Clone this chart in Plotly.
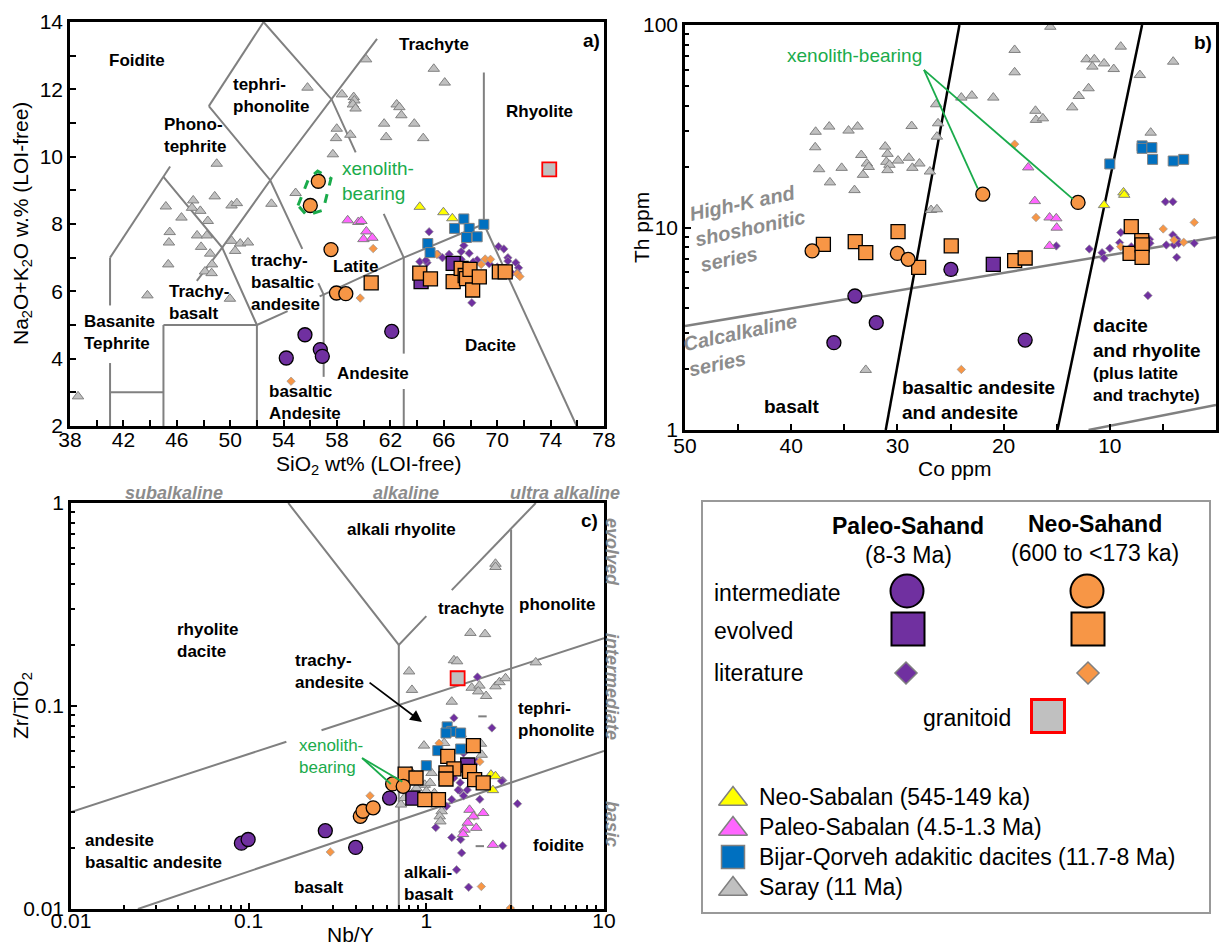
import math
import plotly.graph_objects as go

W, H = 1220, 947
FONT = "Liberation Sans, Arial, sans-serif"
PURPLE = "#7030a0"; ORANGE = "#f79646"; BLUE = "#0070c0"; YELLOW = "#ffff00"
PINK = "#ff66ff"; GRAY = "#c0c0c0"; GREEN = "#1aab4b"; LGRAY = "#8c8c8c"; LINEG = "#808080"

# ---------------- Panel a: TAS (SiO2 vs Na2O+K2O) ----------------
A_PS_INT_X = [54.2, 55.6, 56.75, 56.9, 62.1]
A_PS_INT_Y = [4.02, 4.71, 4.27, 4.07, 4.81]
A_PS_EVO_X = [66.7, 64.3]
A_PS_EVO_Y = [6.83, 6.29]
A_NS_INT_X = [56.6, 56.0, 57.55, 57.96, 58.66]
A_NS_INT_Y = [9.27, 8.55, 7.24, 5.95, 5.93]
A_NS_EVO_X = [60.56, 64.2, 65.0, 66.7, 67.3, 67.6, 67.7, 67.96, 68.16, 68.66, 70.16, 70.6]
A_NS_EVO_Y = [6.25, 6.54, 6.37, 6.29, 6.68, 6.47, 6.38, 6.65, 6.04, 6.43, 6.58, 6.58]
A_BQ_X = [67.5, 69.0, 66.8, 67.9, 67.7, 68.5, 64.8, 64.97]
A_BQ_Y = [8.15, 7.99, 7.87, 7.87, 7.6, 7.62, 7.42, 7.15]
A_NSAB_X = [64.2, 65.97, 66.64]
A_NSAB_Y = [8.51, 8.35, 8.17]
A_PSAB_X = [58.8, 59.6, 59.83, 60.2, 59.98, 60.65]
A_PSAB_Y = [8.11, 8.06, 8.09, 7.78, 7.55, 7.59]
A_GRAN_X = [73.9]
A_GRAN_Y = [9.62]
A_SARAY_X = [38.6, 43.8, 45.18, 45.47, 45.41, 45.36, 46.35, 47.23, 47.14, 47.76, 47.52, 48.25, 47.82,
             48.32, 48.5, 48.64, 48.11, 48.61, 48.99, 48.84, 50.1, 50.5, 50.1, 50.37, 50.75, 51.33,
             49.98, 53.09, 54.9, 55.79, 58.37, 57.98, 57.93, 57.69, 59.0, 59.25, 59.3, 59.19, 59.39,
             60.18, 61.53, 61.68, 62.47, 62.67, 62.82, 63.79, 64.46, 65.25, 66.07]
A_SARAY_Y = [2.88, 5.88, 8.52, 7.76, 7.45, 6.80, 8.19, 8.70, 8.48, 8.39, 7.66, 7.66, 7.32,
             8.09, 7.12, 6.80, 6.59, 6.54, 9.79, 8.82, 8.55, 8.62, 7.5, 7.2, 7.42, 7.45,
             5.78, 8.6, 8.92, 12.05, 11.85, 10.83, 10.55, 10.07, 10.65, 11.77, 11.67, 11.55, 11.43,
             12.89, 10.98, 10.58, 11.55, 11.47, 11.23, 10.98, 10.55, 12.61, 12.2]
A_PS_LIT_X = [64.9, 64.2, 64.75, 65.55, 65.9, 66.4, 67.3, 67.5, 67.9, 67.3, 68.5, 68.1, 70.1, 70.5,
              70.8, 70.8, 71.4, 71.6, 71.5, 71.1, 69.4, 70.0, 64.66, 68.2]
A_PS_LIT_Y = [7.77, 6.88, 6.85, 7.1, 7.0, 7.1, 7.18, 7.36, 7.13, 6.95, 6.93, 5.66, 7.33, 7.26,
              7.0, 6.9, 6.85, 6.7, 6.55, 6.54, 6.82, 6.72, 6.92, 6.87]
A_NS_LIT_X = [54.56, 59.74, 60.71, 65.47, 69.1, 69.5, 68.8, 71.5, 71.7]
A_NS_LIT_Y = [3.33, 5.8, 7.27, 7.1, 6.96, 6.95, 6.8, 6.52, 6.44]
A_XENO_X = [55.08, 55.88, 56.55, 57.55, 56.96, 55.73, 55.08]
A_XENO_Y = [8.55, 9.35, 9.57, 9.35, 8.41, 8.26, 8.55]
TAS_X = [41, 41, None, 41, 41, None, 41, 45, None, 45, 45, None, 45, 52, None, 52, 52, None,
         41, 45, 45.5, None, 48.4, 52.5, None, 45, 49.4, 52, None, 48.4, 53, 55.4, None, 56.6, 57, None,
         52.5, 57.6, 59.4, None, 61.5, 63, None, 47.5, 49.4, 53, 57.6, 61, None,
         57, 57, None, 63, 63, None, 63, 63, None, 52, 54.3, None, 56.7, 57, 63, 69, None,
         69, 69, None, 69, 75.95]
TAS_Y = [2, 3.87, None, 5.58, 7, None, 3, 3, None, 2, 5, None, 5, 5, None, 2, 5, None,
         7, 9.4, 9.71, None, 11.5, 14, None, 9.4, 7.3, 5, None, 11.5, 9.3, 7.26, None, 6.24, 5.9, None,
         14, 11.7, 10.13, None, 8.3, 7, None, 6.31, 7.3, 9.3, 11.7, 13.5, None,
         3.46, 5.9, None, 2, 3.1, None, 4.15, 7, None, 5, 5.41, None, 5.85, 5.9, 7, 8, None,
         8, 12.5, None, 8, 2]

# ---------------- Panel b: Th vs Co ----------------
B_PS_INT_X = [34.0, 31.99, 35.98, 17.97, 24.96]
B_PS_INT_Y = [4.59, 3.39, 2.70, 2.78, 6.21]
B_PS_EVO_X = [20.97]
B_PS_EVO_Y = [6.58]
B_NS_INT_X = [38.03, 30.0, 28.99, 21.96, 12.99]
B_NS_INT_Y = [7.66, 7.45, 6.96, 14.6, 13.3]
B_NS_EVO_X = [36.97, 33.97, 32.98, 29.94, 28.0, 24.93, 18.96, 17.97, 7.98, 8.09, 6.99, 6.96, 6.96]
B_NS_EVO_Y = [8.26, 8.51, 7.51, 9.54, 6.36, 8.11, 6.86, 7.07, 10.1, 7.45, 8.61, 8.2, 7.12]
B_BQ_X = [10.0, 6.96, 6.96, 6.04, 5.97, 4.03, 3.04]
B_BQ_Y = [20.6, 25.3, 24.6, 24.8, 21.7, 21.3, 21.7]
B_NSAB_X = [8.71, 8.64, 10.54]
B_NSAB_Y = [14.9, 14.5, 12.9]
B_PSAB_X = [17.68, 17.06, 15.67, 15.04, 15.0, 15.67]
B_PSAB_Y = [19.8, 13.5, 11.2, 11.1, 9.98, 8.11]
B_SARAY_X = [15.6, 18.96, 18.96, 8.97, 12.19, 11.46, 11.64, 10.54, 9.63, 7.17, 4.03, 12.0, 12.92,
             13.54, 17.0, 16.95, 16.3, 20.97, 22.99, 23.98, 26.35, 26.17, 26.28, 28.66, 36.42, 33.75,
             34.6, 37.7, 37.74, 37.37, 36.35, 35.25, 34.04, 33.4, 33.24, 32.87, 32.7, 31.15, 30.93,
             31.04, 30.75, 30.93, 29.94, 28.92, 28.59, 27.93, 26.94, 26.83, 26.28, 24.93, 32.98, 6.15]
B_SARAY_Y = [98, 75.3, 58.4, 78.2, 67.7, 67.7, 62.3, 64.6, 60.6, 56.6, 65.9, 48.7, 44.6,
             39.2, 37.7, 34.0, 34.6, 43.8, 44.8, 43.8, 40.6, 32.7, 28.1, 31.7, 31.5, 31.5,
             30.1, 29.7, 24.9, 19.4, 16.7, 19.7, 15.3, 22.8, 18.2, 20.7, 19.9, 25.1, 23.1,
             21.1, 20.4, 19.2, 21.4, 22.1, 19.7, 20.7, 18.9, 12.2, 12.3, 5.98, 1.98, 29.4]
B_PS_LIT_X = [4.76, 4.06, 15.04, 11.93, 10.73, 10.54, 10.0, 8.97, 9.08, 7.98, 6.26, 6.22, 6.41, 4.06,
              4.68, 3.96, 3.7, 3.7, 3.51, 2.05, 7.06]
B_PS_LIT_Y = [13.4, 13.4, 8.11, 7.83, 7.51, 7.05, 7.89, 9.44, 8.42, 8.04, 8.74, 8.36, 4.61, 9.19,
              8.2, 8.2, 7.12, 8.74, 8.36, 8.36, 8.36]
B_NS_LIT_X = [18.96, 16.95, 23.98, 4.97, 3.96, 3.04, 2.05, 8.97]
B_NS_LIT_Y = [25.8, 11.2, 1.99, 9.84, 8.67, 8.45, 10.6, 8.04]
B_BLACK_X = [24.16, 31.1, None, 6.96, 14.93]
B_BLACK_Y = [100, 1, None, 100, 1]
B_GRAY_X = [50, 0, None, 12.0, 0]
B_GRAY_Y = [3.26, 8.94, None, 1, 1.33]
B_XENO_X = [27.5, 22.44, None, 27.5, 13.47]
B_XENO_Y = [60, 15.6, None, 60, 13.8]

# ---------------- Panel c: Zr/TiO2 vs Nb/Y ----------------
C_PS_INT_X = [0.091, 0.0993, 0.270, 0.40, 0.621]
C_PS_INT_Y = [0.0211, 0.022, 0.0243, 0.0201, 0.0352]
C_PS_EVO_X = [1.71, 0.84]
C_PS_EVO_Y = [0.0512, 0.0352]
C_NS_INT_X = [0.425, 0.44, 0.502, 0.646, 0.741]
C_NS_INT_Y = [0.0286, 0.0303, 0.0315, 0.0413, 0.0402]
C_NS_EVO_X = [0.76, 0.875, 1.17, 1.32, 1.43, 1.29, 1.29, 1.75, 1.84, 1.87, 2.09, 0.98]
C_NS_EVO_Y = [0.0462, 0.0442, 0.0346, 0.0565, 0.049, 0.0468, 0.0437, 0.0476, 0.0638, 0.0434, 0.0418, 0.0346]
C_BQ_X = [1.31, 1.39, 1.29, 1.56, 1.16, 1.56, 1.0]
C_BQ_Y = [0.0789, 0.075, 0.0736, 0.0736, 0.0603, 0.0614, 0.0508]
C_NSAB_X = [2.31, 2.45, 2.37]
C_NSAB_Y = [0.0459, 0.0451, 0.0385]
C_PSAB_X = [1.75, 1.84, 2.09, 1.71, 1.64, 1.91, 2.37, 1.61]
C_PSAB_Y = [0.0308, 0.0286, 0.0297, 0.0266, 0.0246, 0.0251, 0.0207, 0.0234]
C_GRAN_X = [1.50]
C_GRAN_Y = [0.137]
C_SARAY_X = [2.45, 2.45, 1.77, 2.14, 1.43, 1.49, 0.80, 0.83, 1.39, 1.80, 1.99, 1.96, 2.17, 2.45, 2.58,
             2.79, 4.13, 1.56, 0.97, 1.26, 2.03, 2.05, 0.76, 0.82, 1.07, 1.30, 0.98, 0.88, 0.78, 0.72,
             0.75, 0.84, 1.0, 1.05, 1.11, 1.08, 0.93, 1.22, 1.19, 1.20]
C_SARAY_Y = [0.502, 0.484, 0.229, 0.226, 0.168, 0.166, 0.148, 0.120, 0.105, 0.123, 0.126, 0.118, 0.112,
             0.125, 0.131, 0.137, 0.164, 0.0728, 0.0638, 0.0657, 0.0652, 0.0575, 0.0442, 0.0476, 0.0468,
             0.0471, 0.0409, 0.0394, 0.0366, 0.0327, 0.0352, 0.0366, 0.038, 0.0418, 0.0372, 0.0339,
             0.0346, 0.0303, 0.0286, 0.027]
C_DASH_X = [2.07, 2.0]
C_DASH_Y = [0.0889, 0.0204]
C_PS_LIT_X = [1.94, 1.43, 2.34, 1.62, 1.92, 2.69, 1.54, 1.70, 1.51, 1.39, 1.30, 2.0, 1.62, 3.26, 1.13,
              1.39, 1.56, 1.58, 1.48, 1.73, 2.69, 1.43, 2.65, 1.55]
C_PS_LIT_Y = [0.139, 0.0873, 0.078, 0.0586, 0.0532, 0.043, 0.0383, 0.0386, 0.0386, 0.0346, 0.0321,
              0.0347, 0.0361, 0.033, 0.0252, 0.0225, 0.022, 0.0189, 0.0156, 0.0128, 0.0205, 0.0442,
              0.0427, 0.0419]
C_NS_LIT_X = [0.482, 0.288, 2.04, 2.97, 2.0, 1.18, 1.86]
C_NS_LIT_Y = [0.0361, 0.0191, 0.0129, 0.0101, 0.0532, 0.0655, 0.0287]
C_LINES_X = [0.167, 0.7, 1.0, None, 1.39, 4.13, None, 0.7, 0.7, None, 3.0, 3.0, None,
             0.01, 0.163, None, 0.257, 10, None, 0.0238, 10]
C_LINES_Y = [1, 0.2, 0.277, None, 0.372, 1, None, 0.01, 0.2, None, 0.01, 0.74, None,
             0.030, 0.0667, None, 0.0759, 0.216, None, 0.01, 0.06]
C_XENO_X = [0.435, 0.631, None, 0.435, 0.733]
C_XENO_Y = [0.0554, 0.0413, None, 0.0554, 0.0423]

fig = go.Figure()


def pts(xa, ya, x, y, symbol, color, size, lcolor, lwidth):
    fig.add_trace(go.Scatter(x=x, y=y, mode="markers", xaxis=xa, yaxis=ya, hoverinfo="skip",
                             marker=dict(symbol=symbol, color=color, size=size,
                                         line=dict(color=lcolor, width=lwidth))))


def lines(xa, ya, x, y, color, width, dash="solid"):
    fig.add_trace(go.Scatter(x=x, y=y, mode="lines", xaxis=xa, yaxis=ya, hoverinfo="skip",
                             line=dict(color=color, width=width, dash=dash)))


def panel(xa, ya, d, big):
    (ps_ix, ps_iy, ps_ex, ps_ey, ns_ix, ns_iy, ns_ex, ns_ey, bq_x, bq_y, nsab_x, nsab_y,
     psab_x, psab_y, sar_x, sar_y, psl_x, psl_y, nsl_x, nsl_y) = d
    pts(xa, ya, sar_x, sar_y, "triangle-up", GRAY, 10, LINEG, 1)
    pts(xa, ya, psl_x, psl_y, "diamond", PURPLE, 6.5, "#9a9a9a", 0.7)
    pts(xa, ya, nsl_x, nsl_y, "diamond", ORANGE, 6.5, "#9a9a9a", 0.7)
    pts(xa, ya, psab_x, psab_y, "triangle-up", PINK, 10, LINEG, 1)
    pts(xa, ya, nsab_x, nsab_y, "triangle-up", YELLOW, 10, LINEG, 1)
    pts(xa, ya, bq_x, bq_y, "square", BLUE, 10, LINEG, 1)
    pts(xa, ya, ps_ix, ps_iy, "circle", PURPLE, big, "black", 1.3)
    pts(xa, ya, ps_ex, ps_ey, "square", PURPLE, big, "black", 1.3)
    pts(xa, ya, ns_ex, ns_ey, "square", ORANGE, big, "black", 1.3)
    pts(xa, ya, ns_ix, ns_iy, "circle", ORANGE, big, "black", 1.3)


# Panel a
lines("x", "y", TAS_X, TAS_Y, LINEG, 2)
panel("x", "y", (A_PS_INT_X, A_PS_INT_Y, A_PS_EVO_X, A_PS_EVO_Y, A_NS_INT_X, A_NS_INT_Y, A_NS_EVO_X,
                 A_NS_EVO_Y, A_BQ_X, A_BQ_Y, A_NSAB_X, A_NSAB_Y, A_PSAB_X, A_PSAB_Y, A_SARAY_X,
                 A_SARAY_Y, A_PS_LIT_X, A_PS_LIT_Y, A_NS_LIT_X, A_NS_LIT_Y), 14)
pts("x", "y", A_GRAN_X, A_GRAN_Y, "square", GRAY, 14, "red", 1.8)
lines("x", "y", A_XENO_X, A_XENO_Y, GREEN, 3, "dash")

# Panel b
lines("x2", "y2", B_GRAY_X, B_GRAY_Y, LINEG, 2.5)
lines("x2", "y2", B_BLACK_X, B_BLACK_Y, "black", 2.5)
panel("x2", "y2", (B_PS_INT_X, B_PS_INT_Y, B_PS_EVO_X, B_PS_EVO_Y, B_NS_INT_X, B_NS_INT_Y, B_NS_EVO_X,
                   B_NS_EVO_Y, B_BQ_X, B_BQ_Y, B_NSAB_X, B_NSAB_Y, B_PSAB_X, B_PSAB_Y, B_SARAY_X,
                   B_SARAY_Y, B_PS_LIT_X, B_PS_LIT_Y, B_NS_LIT_X, B_NS_LIT_Y), 14)
lines("x2", "y2", B_XENO_X, B_XENO_Y, GREEN, 1.8)

# Panel c
lines("x3", "y3", C_LINES_X, C_LINES_Y, LINEG, 2)
pts("x3", "y3", C_DASH_X, C_DASH_Y, "line-ew", GRAY, 6, LINEG, 2)
panel("x3", "y3", (C_PS_INT_X, C_PS_INT_Y, C_PS_EVO_X, C_PS_EVO_Y, C_NS_INT_X, C_NS_INT_Y, C_NS_EVO_X,
                   C_NS_EVO_Y, C_BQ_X, C_BQ_Y, C_NSAB_X, C_NSAB_Y, C_PSAB_X, C_PSAB_Y, C_SARAY_X,
                   C_SARAY_Y, C_PS_LIT_X, C_PS_LIT_Y, C_NS_LIT_X, C_NS_LIT_Y), 14)
pts("x3", "y3", C_GRAN_X, C_GRAN_Y, "square", GRAY, 14, "red", 1.8)
lines("x3", "y3", C_XENO_X, C_XENO_Y, GREEN, 1.8)

# Legend symbols (overlay axis in page pixels)
LEG_SYM = [
    (907, 591, "circle", PURPLE, 33, "black", 2),
    (1087, 591, "circle", ORANGE, 33, "black", 2),
    (908, 629, "square", PURPLE, 33, "black", 2),
    (1088, 629, "square", ORANGE, 33, "black", 2),
    (906, 673, "diamond", PURPLE, 17, "#808080", 1.5),
    (1088, 673, "diamond", ORANGE, 17, "#808080", 1.5),
    (1048, 716, "square", GRAY, 33, "red", 3),
    (733, 799, "triangle-up", YELLOW, 25, "#808080", 1.5),
    (733, 829, "triangle-up", PINK, 25, "#808080", 1.5),
    (733, 857, "square", BLUE, 23, "#808080", 1.5),
    (733, 889, "triangle-up", GRAY, 25, "#808080", 1.5),
]
for (lx, ly, s, c, sz, lc, lw) in LEG_SYM:
    pts("x4", "y4", [lx], [ly], s, c, sz, lc, lw)


def P(x, y):
    return x / W, 1 - y / H


def txt(x, y, s, size=17, color="black", weight="bold", style="normal", xanchor="center",
        align="center", angle=0, yanchor="middle"):
    px_, py_ = P(x, y)
    fig.add_annotation(x=px_, y=py_, xref="paper", yref="paper", text=s, showarrow=False,
                       font=dict(family=FONT, size=size, color=color, weight=weight, style=style),
                       xanchor=xanchor, yanchor=yanchor, align=align, textangle=angle, borderpad=0)


# Panel a labels
txt(137, 61, "Foidite")
txt(232, 95, "tephri-<br>phonolite", xanchor="left", align="left")
txt(434, 44, "Trachyte")
txt(539, 112, "Rhyolite")
txt(163, 136, "Phono-<br>tephrite", xanchor="left", align="left")
txt(250, 282, "trachy-<br>basaltic<br>andesite", xanchor="left", align="left")
txt(355, 266, "Latite")
txt(168, 302, "Trachy-<br>basalt", xanchor="left", align="left")
txt(83, 332, "Basanite<br>Tephrite", xanchor="left", align="left")
txt(373, 373, "Andesite")
txt(268, 403, "basaltic<br>Andesite", xanchor="left", align="left")
txt(490, 345, "Dacite")
txt(601, 41, "a)", size=19, xanchor="right")
txt(341, 181, "xenolith-<br>bearing", size=19, color=GREEN, weight="normal", xanchor="left", align="left")
txt(369, 465, "SiO<sub>2</sub> wt% (LOI-free)", size=21, weight="normal")
txt(22, 224, "Na<sub>2</sub>O+K<sub>2</sub>O w.% (LOI-free)", size=21, weight="normal", angle=-90)

# Panel b labels
txt(1213, 43, "b)", size=19, xanchor="right")
txt(855, 56, "xenolith-bearing", size=19, color=GREEN, weight="normal")
txt(792, 406, "basalt", size=19)
txt(901, 400, "basaltic andesite<br>and andesite", size=19, xanchor="left", align="left")
txt(1092, 338, "dacite<br>and rhyolite", size=19, xanchor="left", align="left")
txt(1092, 384, "(plus latite<br>and trachyte)", size=17, xanchor="left", align="left")
txt(750, 228, "High-K and<br>shoshonitic<br>series", size=20, color=LGRAY, style="italic",
    align="left", angle=-12)
txt(743, 345, "Calcalkaline<br>series", size=20, color=LGRAY, style="italic", align="left", angle=-12)
txt(641, 228, "Th ppm", size=21, weight="normal", angle=-90)
txt(955, 468, "Co ppm", size=21, weight="normal")

# Panel c labels
txt(174, 493, "subalkaline", size=18, color=LGRAY, style="italic")
txt(406, 493, "alkaline", size=18, color=LGRAY, style="italic")
txt(565, 493, "ultra alkaline", size=18, color=LGRAY, style="italic")
txt(612, 552, "evolved", size=18, color=LGRAY, style="italic", angle=90)
txt(612, 686, "intermediate", size=18, color=LGRAY, style="italic", angle=90)
txt(612, 824, "basic", size=18, color=LGRAY, style="italic", angle=90)
txt(599, 520, "c)", size=19, xanchor="right")
txt(401, 529, "alkali rhyolite")
txt(471, 608, "trachyte")
txt(557, 604, "phonolite")
txt(176, 640, "rhyolite<br>dacite", xanchor="left", align="left")
txt(294, 671, "trachy-<br>andesite", xanchor="left", align="left")
txt(517, 719, "tephri-<br>phonolite", xanchor="left", align="left")
txt(84, 851, "andesite<br>basaltic andesite", xanchor="left", align="left")
txt(318, 887, "basalt")
txt(403, 883, "alkali-<br>basalt", xanchor="left", align="left")
txt(558, 845, "foidite")
txt(298, 756, "xenolith-<br>bearing", size=17, color=GREEN, weight="normal", xanchor="left", align="left")
txt(22, 706, "Zr/TiO<sub>2</sub>", size=21, weight="normal", angle=-90)
txt(350, 934, "Nb/Y", size=21, weight="normal")

fig.add_annotation(x=math.log10(0.944), y=math.log10(0.0834), ax=math.log10(0.47), ay=math.log10(0.132),
                   xref="x3", yref="y3", axref="x3", ayref="y3", text="", showarrow=True,
                   arrowhead=2, arrowsize=1.3, arrowwidth=1.8, arrowcolor="black")

# Legend texts
txt(908, 526, "Paleo-Sahand", size=23)
txt(908, 555, "(8-3 Ma)", size=23, weight="normal")
txt(1095, 524, "Neo-Sahand", size=23)
txt(1095, 553, "(600 to &lt;173 ka)", size=23, weight="normal")
txt(713, 593, "intermediate", size=23, weight="normal", xanchor="left")
txt(713, 631, "evolved", size=23, weight="normal", xanchor="left")
txt(713, 673, "literature", size=23, weight="normal", xanchor="left")
txt(1012, 718, "granitoid", size=23, weight="normal", xanchor="right")
txt(758, 797, "Neo-Sabalan (545-149 ka)", size=23, weight="normal", xanchor="left")
txt(758, 827, "Paleo-Sabalan (4.5-1.3 Ma)", size=23, weight="normal", xanchor="left")
txt(758, 857, "Bijar-Qorveh adakitic dacites (11.7-8 Ma)", size=23, weight="normal", xanchor="left")
txt(758, 887, "Saray (11 Ma)", size=23, weight="normal", xanchor="left")

lx0, ly0 = P(702, 913)
lx1, ly1 = P(1210, 501)
fig.add_shape(type="rect", xref="paper", yref="paper", x0=lx0, y0=ly0, x1=lx1, y1=ly1,
              line=dict(color="#999999", width=2), fillcolor="rgba(0,0,0,0)")

TICKFONT = dict(family=FONT, size=21, color="black")


def axis(domain, **kw):
    base = dict(domain=domain, showline=True, linewidth=2.5, linecolor="black", mirror=True,
                showgrid=False, zeroline=False, ticks="inside", ticklen=6, tickwidth=1.5,
                tickcolor="black", tickfont=TICKFONT, fixedrange=True, automargin=False)
    base.update(kw)
    return base


def dom_x(a, b):
    return [a / W, b / W]


def dom_y(top, bottom):
    return [1 - bottom / H, 1 - top / H]


def logminor(decades):
    return [m * 10 ** d for d in decades for m in range(2, 10)]


fig.update_layout(
    width=W, height=H, autosize=False, margin=dict(l=0, r=0, t=0, b=0, pad=0),
    paper_bgcolor="white", plot_bgcolor="rgba(0,0,0,0)", showlegend=False,
    xaxis=axis(dom_x(70, 604), anchor="y", range=[38, 78], tickvals=list(range(38, 79, 4)),
               ticklabelstandoff=-7,
               minor=dict(tickvals=list(range(40, 78, 4)), ticks="inside", ticklen=6, tickcolor="black")),
    yaxis=axis(dom_y(22, 426), anchor="x", range=[2, 14], tickvals=list(range(2, 15, 2)),
               minor=dict(tickvals=list(range(3, 14, 2)), ticks="inside", ticklen=6, tickcolor="black")),
    xaxis2=axis(dom_x(685, 1216), anchor="y2", range=[50, 0], tickvals=[50, 40, 30, 20, 10, 0],
                ticklabelstandoff=-5,
                minor=dict(tickvals=[45, 35, 25, 15, 5], ticks="inside", ticklen=6, tickcolor="black")),
    yaxis2=axis(dom_y(25, 430), anchor="x2", type="log", range=[0, 2], tickvals=[1, 10, 100],
                ticktext=["1", "10", "100"],
                minor=dict(tickvals=logminor([0, 1]), ticks="inside", ticklen=4, tickcolor="black")),
    xaxis3=axis(dom_x(71, 604), anchor="y3", type="log", range=[-2, 1], tickvals=[0.01, 0.1, 1, 10],
                ticktext=["0.01", "0.1", "1", "10"], ticklabelstandoff=-9,
                minor=dict(tickvals=logminor([-2, -1, 0]), ticks="inside", ticklen=4, tickcolor="black")),
    yaxis3=axis(dom_y(503, 909), anchor="x3", type="log", range=[-2, 0], tickvals=[0.01, 0.1, 1],
                ticktext=["0.01", "0.1", "1"],
                minor=dict(tickvals=logminor([-2, -1]), ticks="inside", ticklen=4, tickcolor="black")),
    xaxis4=dict(domain=[0, 1], anchor="y4", range=[0, W], visible=False, fixedrange=True, automargin=False),
    yaxis4=dict(domain=[0, 1], anchor="x4", range=[H, 0], visible=False, fixedrange=True, automargin=False),
)

fig.write_html("out.html")
